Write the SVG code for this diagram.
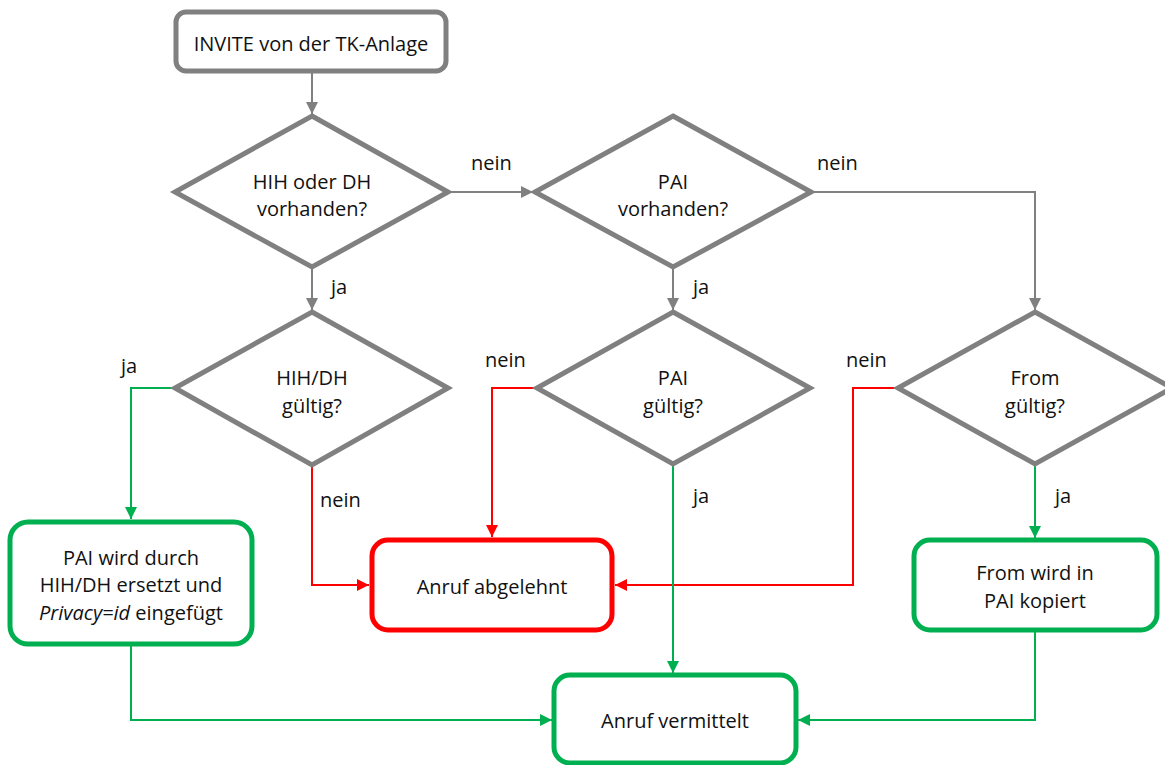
<svg xmlns="http://www.w3.org/2000/svg" width="1165" height="765" viewBox="0 0 1165 765">
<defs>
<style>
text{font-family:"Open Sans","Noto Sans",sans-serif;font-size:20px;fill:#111;text-anchor:middle}
.lbl{text-anchor:start}
.box{fill:#fff;stroke-width:5}
.g{stroke:#808080}
.gr{stroke:#00b050}
.rd{stroke:#ff0000}
.dia{fill:#fff;stroke:#808080;stroke-width:5;stroke-linejoin:miter}
.c{fill:none;stroke-width:2}
</style>
<marker id="ag" markerWidth="12" markerHeight="12" viewBox="0 0 12 12" refX="12" refY="6" orient="auto" markerUnits="userSpaceOnUse"><path d="M0,0L12,6L0,12z" fill="#808080"/></marker>
<marker id="agr" markerWidth="12" markerHeight="12" viewBox="0 0 12 12" refX="12" refY="6" orient="auto" markerUnits="userSpaceOnUse"><path d="M0,0L12,6L0,12z" fill="#00b050"/></marker>
<marker id="ard" markerWidth="12" markerHeight="12" viewBox="0 0 12 12" refX="12" refY="6" orient="auto" markerUnits="userSpaceOnUse"><path d="M0,0L12,6L0,12z" fill="#ff0000"/></marker>
</defs>
<rect width="1165" height="765" fill="#fff"/>
<g id="connectors">
<path class="c g" d="M312,72V114" marker-end="url(#ag)"/>
<path class="c g" d="M448,192H533" marker-end="url(#ag)"/>
<path class="c g" d="M811,192H1035V310" marker-end="url(#ag)"/>
<path class="c g" d="M312,267V310" marker-end="url(#ag)"/>
<path class="c g" d="M673,267V310" marker-end="url(#ag)"/>
<path class="c gr" d="M175,388H131V519" marker-end="url(#agr)"/>
<path class="c rd" d="M312,465V585H369" marker-end="url(#ard)"/>
<path class="c rd" d="M537,388H492V537" marker-end="url(#ard)"/>
<path class="c rd" d="M898,388H853V585H615" marker-end="url(#ard)"/>
<path class="c gr" d="M673,464V673" marker-end="url(#agr)"/>
<path class="c gr" d="M1035,464V538" marker-end="url(#agr)"/>
<path class="c gr" d="M131,645V720H552" marker-end="url(#agr)"/>
<path class="c gr" d="M1035,631V720H798" marker-end="url(#agr)"/>
<text class="lbl" x="471" y="170">nein</text>
<text class="lbl" x="817" y="170">nein</text>
<text class="lbl" x="331" y="294">ja</text>
<text class="lbl" x="693" y="294">ja</text>
<text class="lbl" x="121" y="373">ja</text>
<text class="lbl" x="485" y="367">nein</text>
<text class="lbl" x="846" y="367">nein</text>
<text class="lbl" x="320" y="507">nein</text>
<text class="lbl" x="693" y="503">ja</text>
<text class="lbl" x="1055" y="503">ja</text>
</g>
<g id="start">
<rect class="box g" x="176" y="12" width="270" height="59" rx="10"/>
<text x="311" y="51">INVITE von der TK-Anlage</text>
</g>
<g id="d1">
<polygon class="dia" points="312,116 448,192 312,267 175,192"/>
<text x="312" y="189">HIH oder DH</text>
<text x="312" y="216">vorhanden?</text>
</g>
<g id="d2">
<polygon class="dia" points="673,116 811,192 673,267 535,192"/>
<text x="673" y="189">PAI</text>
<text x="673" y="216">vorhanden?</text>
</g>
<g id="d3">
<polygon class="dia" points="312,312 448,388 312,465 175,388"/>
<text x="312" y="385">HIH/DH</text>
<text x="312" y="413">gültig?</text>
</g>
<g id="d4">
<polygon class="dia" points="673,312 810,388 673,464 537,388"/>
<text x="673" y="385">PAI</text>
<text x="673" y="413">gültig?</text>
</g>
<g id="d5">
<polygon class="dia" points="1035,312 1172,388 1035,464 898,388"/>
<text x="1035" y="385">From</text>
<text x="1035" y="413">gültig?</text>
</g>
<g id="replace">
<rect class="box gr" x="10" y="522" width="242" height="122" rx="18"/>
<text x="131" y="565">PAI wird durch</text>
<text x="131" y="592">HIH/DH ersetzt und</text>
<text x="131" y="620"><tspan font-style="italic">Privacy=id</tspan> eingefügt</text>
</g>
<g id="reject">
<rect class="box rd" x="372" y="540" width="240" height="90" rx="16"/>
<text x="492" y="594">Anruf abgelehnt</text>
</g>
<g id="copy">
<rect class="box gr" x="914" y="540" width="243" height="90" rx="16"/>
<text x="1035" y="580">From wird in</text>
<text x="1035" y="608">PAI kopiert</text>
</g>
<g id="connected">
<rect class="box gr" x="554" y="675" width="242" height="88" rx="16"/>
<text x="675" y="728">Anruf vermittelt</text>
</g>
</svg>
